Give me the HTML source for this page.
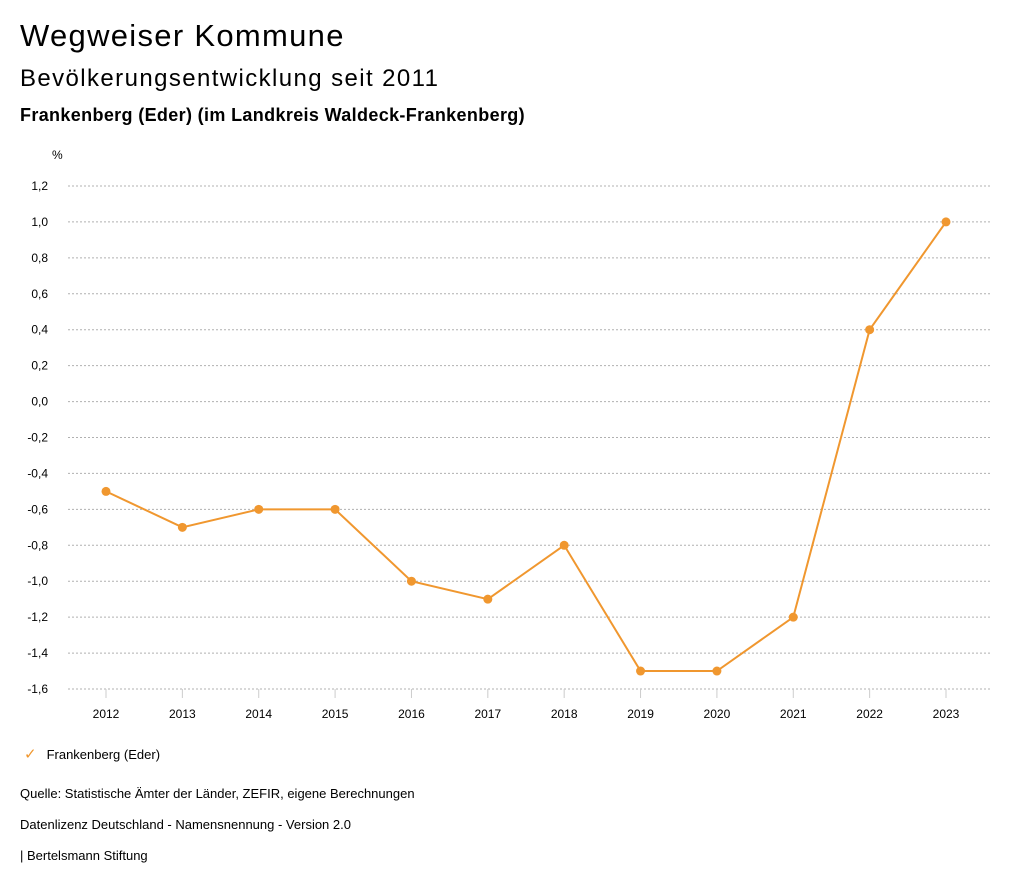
<!DOCTYPE html>
<html><head><meta charset="utf-8"><style>
body{margin:0;background:#fff;font-family:"Liberation Sans",sans-serif;color:#000}
.t{position:absolute;white-space:nowrap}
</style></head><body>
<div style="position:relative;width:1024px;height:888px;overflow:hidden">
<div class="t" style="left:20px;top:18px;font-size:31px;letter-spacing:1.3px">Wegweiser Kommune</div>
<div class="t" style="left:20px;top:65px;font-size:24px;letter-spacing:1.4px">Bevölkerungsentwicklung seit 2011</div>
<div class="t" style="left:20px;top:105px;font-size:18px;font-weight:bold;letter-spacing:0.35px">Frankenberg (Eder) (im Landkreis Waldeck-Frankenberg)</div>
<svg id="c" width="1024" height="888" style="position:absolute;left:0;top:0"></svg>
<div class="t" style="left:20px;top:745px;font-size:13px"><span style="color:#f0972f;font-size:15px;margin-left:4px">✓</span><span style="margin-left:10px">Frankenberg (Eder)</span></div>
<div class="t" style="left:20px;top:786px;font-size:13px">Quelle: Statistische Ämter der Länder, ZEFIR, eigene Berechnungen</div>
<div class="t" style="left:20px;top:817px;font-size:13px">Datenlizenz Deutschland - Namensnennung - Version 2.0</div>
<div class="t" style="left:20px;top:848px;font-size:13px">| Bertelsmann Stiftung</div>
</div>
<script>
const years=["2012","2013","2014","2015","2016","2017","2018","2019","2020","2021","2022","2023"];
const values=[-0.5,-0.7,-0.6,-0.6,-1.0,-1.1,-0.8,-1.5,-1.5,-1.2,0.4,1.0];
const yTicks=[1.2,1.0,0.8,0.6,0.4,0.2,0.0,-0.2,-0.4,-0.6,-0.8,-1.0,-1.2,-1.4,-1.6];
const svg=document.getElementById('c');const NS='http://www.w3.org/2000/svg';
function y(v){return 186+(1.2-v)*(689-186)/2.8;}
function x(i){return 106+i*(946-106)/11;}
function mk(t,a){const e=document.createElementNS(NS,t);for(const k in a)e.setAttribute(k,a[k]);svg.appendChild(e);return e;}
const u=mk('text',{x:52,y:159,'font-size':12,'font-family':'Liberation Sans'});u.textContent='%';


yTicks.forEach(v=>{
 const l=mk('line',{x1:68,x2:990,y1:y(v),y2:y(v),stroke:'#b0b0b0','stroke-dasharray':'2,2','stroke-width':1});
 
 
 const t=mk('text',{x:48,y:y(v)+4,'text-anchor':'end','font-size':12,'font-family':'Liberation Sans'});
 t.textContent=v.toFixed(1).replace('.',',');
 
 
});
years.forEach((yr,i)=>{
 const l=mk('line',{x1:x(i),x2:x(i),y1:y(-1.6),y2:y(-1.6)+9,stroke:'#ccc'});
 
 
 const t=mk('text',{x:x(i),y:718,'text-anchor':'middle','font-size':12,'font-family':'Liberation Sans'});
 t.textContent=yr;
 
 
});
const p=mk('polyline',{points:values.map((v,i)=>x(i)+','+y(v)).join(' '),fill:'none',stroke:'#f0972f','stroke-width':2});


values.forEach((v,i)=>{
 const c=mk('circle',{cx:x(i),cy:y(v),r:4.5,fill:'#f0972f'});
 
 
});
</script>
</body></html>
